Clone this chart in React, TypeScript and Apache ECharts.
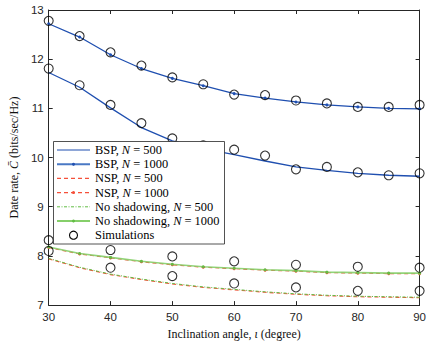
import React, { useEffect, useRef } from "react";
import * as echarts from "echarts";

// Inclination angles (degrees)
const angles = [30, 35, 40, 45, 50, 55, 60, 65, 70, 75, 80, 85, 90];
const simAnglesFine = [30, 35, 40, 45, 50, 55, 60, 65, 70, 75, 80, 85, 90];
const simAnglesCoarse = [30, 40, 50, 60, 70, 80, 90];

// Analytical curves
const bsp500 = [11.73, 11.43, 11.01, 10.61, 10.34, 10.18, 10.06, 9.93, 9.81, 9.74, 9.68, 9.64, 9.62];
const bsp1000 = [12.72, 12.45, 12.09, 11.81, 11.61, 11.46, 11.3, 11.21, 11.13, 11.07, 11.03, 11.0, 10.99];
const nsp500 = [7.94, 7.76, 7.62, 7.52, 7.43, 7.36, 7.31, 7.26, 7.22, 7.19, 7.17, 7.16, 7.15];
const nsp1000 = [8.17, 8.04, 7.96, 7.88, 7.82, 7.77, 7.74, 7.71, 7.69, 7.66, 7.65, 7.64, 7.64];
const ns500 = [7.95, 7.77, 7.63, 7.53, 7.44, 7.37, 7.32, 7.27, 7.23, 7.2, 7.18, 7.17, 7.16];
const ns1000 = [8.18, 8.05, 7.97, 7.89, 7.83, 7.78, 7.75, 7.72, 7.7, 7.67, 7.66, 7.65, 7.65];

// Simulation points
const simBsp1000 = [12.78, 12.47, 12.14, 11.87, 11.63, 11.49, 11.28, 11.27, 11.16, 11.1, 11.03, 11.03, 11.07];
const simBsp500 = [11.81, 11.47, 11.07, 10.7, 10.39, 10.25, 10.16, 10.04, 9.76, 9.81, 9.7, 9.64, 9.68];
const simLow1000 = [8.32, 8.12, 7.99, 7.89, 7.82, 7.78, 7.76];
const simLow500 = [8.1, 7.76, 7.59, 7.44, 7.36, 7.29, 7.29];

const xTicks = [30, 40, 50, 60, 70, 80, 90];
const yTicks = [7, 8, 9, 10, 11, 12, 13];

const legendLabels = [
  "BSP, N = 500",
  "BSP, N = 1000",
  "NSP, N = 500",
  "NSP, N = 1000",
  "No shadowing, N = 500",
  "No shadowing, N = 1000",
  "Simulations",
];

const BLUE = "#1f4fb0";
const BLUE_L = "#4a78c4";
const RED = "#f5503a";
const GREEN = "#62bd45";
const GREEN_L = "#86cf6a";
const AX = "#262626";
const SERIF = "'Liberation Serif', 'DejaVu Serif', serif";
const SANS = "'Liberation Sans', Arial, sans-serif";

const pairs = (xs: number[], ys: number[]) => xs.map((x, i) => [x, ys[i]]);

export default function App() {
  const ref = useRef<HTMLDivElement>(null);
  useEffect(() => {
    if (!ref.current) return;
    const chart = echarts.init(ref.current, undefined, { renderer: "svg" });
    const simData = [
      ...pairs(simAnglesFine, simBsp1000),
      ...pairs(simAnglesFine, simBsp500),
      ...pairs(simAnglesCoarse, simLow1000),
      ...pairs(simAnglesCoarse, simLow500),
    ];
    const rich = {
      n: { fontFamily: SERIF, fontSize: 12, color: "#111" },
      i: { fontFamily: SERIF, fontSize: 12, fontStyle: "italic", color: "#111" },
    };
    const lrich = {
      n: { fontFamily: SERIF, fontSize: 12.4, color: "#111" },
      i: { fontFamily: SERIF, fontSize: 12.4, fontStyle: "italic", color: "#111" },
    };
    const fmt = (name: string) => {
      const m = name.match(/^(.*), N = (\d+)$/);
      if (m) return `{n|${m[1]}, }{i|N}{n| = ${m[2]}}`;
      return `{n|${name}}`;
    };
    const axisBase = {
      type: "value" as const,
      axisLine: { show: true, onZero: false, lineStyle: { color: AX, width: 1 } },
      axisTick: { show: true, inside: true, length: 4, lineStyle: { color: AX } },
      splitLine: { show: false },
    };

    // Legend (drawn as graphics)
    const lx0 = 57, lx1 = 90, tx = 95, ly0 = 150, lstep = 14.2;
    const legendStyles = [
      { color: BLUE, width: 1.2, dash: null as any, dot: false, circle: false },
      { color: BLUE_L, width: 2, dash: null, dot: true, dotColor: BLUE, circle: false },
      { color: RED, width: 1.1, dash: [4, 3], dot: false, circle: false },
      { color: RED, width: 1.1, dash: [4, 3], dot: true, dotColor: RED, circle: false },
      { color: GREEN, width: 1, dash: [3, 1.5, 1, 1.5], dot: false, circle: false },
      { color: GREEN_L, width: 2, dash: null, dot: true, dotColor: GREEN, circle: false },
      { color: "#000", width: 1, dash: null, dot: false, circle: true },
    ];
    const legendEls: any[] = [
      {
        type: "rect",
        shape: { x: 53.5, y: 141.5, width: 171, height: 102.5 },
        style: { fill: "#fff", stroke: AX, lineWidth: 0.8 },
        z: 10,
      },
    ];
    legendLabels.forEach((lab, i) => {
      const y = ly0 + i * lstep;
      const s: any = legendStyles[i];
      if (s.circle) {
        legendEls.push({
          type: "circle",
          shape: { cx: (lx0 + lx1) / 2, cy: y, r: 4 },
          style: { fill: "none", stroke: "#000", lineWidth: 1.1 },
          z: 11,
        });
      } else {
        legendEls.push({
          type: "line",
          shape: { x1: lx0, y1: y, x2: lx1, y2: y },
          style: { stroke: s.color, lineWidth: s.width, lineDash: s.dash || undefined },
          z: 11,
        });
        if (s.dot) {
          legendEls.push({
            type: "circle",
            shape: { cx: (lx0 + lx1) / 2, cy: y, r: 1.5 },
            style: { fill: s.dotColor },
            z: 12,
          });
        }
      }
      legendEls.push({
        type: "text",
        x: tx,
        y: y,
        style: { text: fmt(lab), rich: lrich, verticalAlign: "middle", align: "left" },
        z: 12,
      });
    });

    const option: any = {
      animation: false,
      backgroundColor: "#fff",
      grid: { left: 46, right: 7, top: 10, bottom: 39, containLabel: false },
      xAxis: [
        {
          ...axisBase,
          min: xTicks[0],
          max: xTicks[xTicks.length - 1],
          interval: 10,
          position: "bottom",
          axisLabel: { color: AX, fontFamily: SANS, fontSize: 11.5, margin: 6 },
          name: "{n|Inclination angle, }{i|ι}{n| (degree)}",
          nameLocation: "middle",
          nameGap: 20,
          nameTextStyle: { rich },
        },
        {
          ...axisBase,
          min: xTicks[0],
          max: xTicks[xTicks.length - 1],
          interval: 10,
          position: "top",
          axisLabel: { show: false },
        },
      ],
      yAxis: [
        {
          ...axisBase,
          min: yTicks[0],
          max: yTicks[yTicks.length - 1],
          interval: 1,
          position: "left",
          axisLabel: { color: AX, fontFamily: SANS, fontSize: 11.5, margin: 5 },
          name: "{n|Date rate, }{i|C\u0304}{n| (bits/sec/Hz)}",
          nameLocation: "middle",
          nameGap: 25,
          nameRotate: 90,
          nameTextStyle: { rich },
        },
        {
          ...axisBase,
          min: yTicks[0],
          max: yTicks[yTicks.length - 1],
          interval: 1,
          position: "right",
          axisLabel: { show: false },
        },
      ],
      graphic: legendEls,
      series: [
        {
          name: legendLabels[0],
          type: "line",
          data: pairs(angles, bsp500),
          symbol: "none",
          lineStyle: { color: BLUE, width: 1.3 },
          itemStyle: { color: BLUE },
          z: 3,
        },
        {
          name: legendLabels[1],
          type: "line",
          data: pairs(angles, bsp1000),
          symbol: "circle",
          symbolSize: 3,
          lineStyle: { color: BLUE, width: 1.3 },
          itemStyle: { color: BLUE },
          z: 3,
        },
        {
          name: legendLabels[2],
          type: "line",
          data: pairs(angles, nsp500),
          symbol: "none",
          lineStyle: { color: RED, width: 1.1, type: [4, 3] },
          itemStyle: { color: RED },
          z: 3,
        },
        {
          name: legendLabels[3],
          type: "line",
          data: pairs(angles, nsp1000),
          symbol: "circle",
          symbolSize: 3,
          lineStyle: { color: RED, width: 1.1, type: [4, 3] },
          itemStyle: { color: RED },
          z: 3,
        },
        {
          name: legendLabels[4],
          type: "line",
          data: pairs(angles, ns500),
          symbol: "none",
          lineStyle: { color: GREEN, width: 1, type: [3, 1.5, 1, 1.5] },
          itemStyle: { color: GREEN },
          z: 3,
        },
        {
          name: legendLabels[5],
          type: "line",
          data: pairs(angles, ns1000),
          symbol: "circle",
          symbolSize: 3,
          lineStyle: { color: GREEN_L, width: 1.6, opacity: 0.9 },
          itemStyle: { color: GREEN },
          z: 3,
        },
        {
          name: legendLabels[6],
          type: "scatter",
          data: simData,
          symbol: "circle",
          symbolSize: 9,
          itemStyle: { color: "rgba(0,0,0,0)", borderColor: "#000", borderWidth: 1.1 },
          z: 3,
        },
      ],
    };
    chart.setOption(option);
    return () => chart.dispose();
  }, []);
  return <div ref={ref} style={{ width: 429, height: 345, position: "absolute", left: 0, top: 0 }} />;
}
